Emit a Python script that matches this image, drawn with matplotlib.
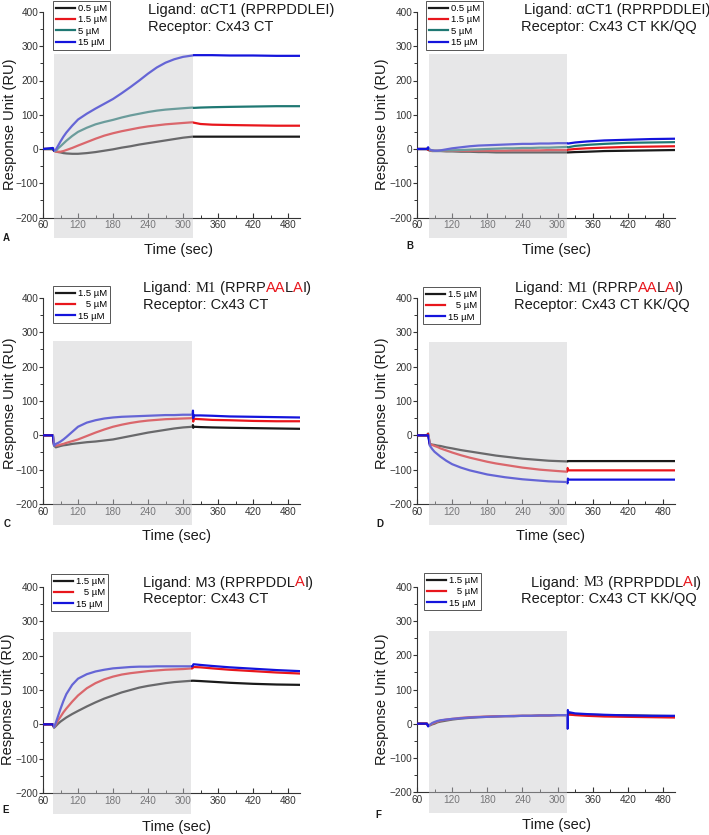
import matplotlib
matplotlib.use("Agg")
import matplotlib.pyplot as plt
from matplotlib.patches import Rectangle
from matplotlib.ticker import MultipleLocator
from matplotlib.transforms import IdentityTransform
from matplotlib.lines import Line2D

plt.rcParams['font.family'] = ['Liberation Sans', 'DejaVu Sans']

# ---------------- data ----------------
TIME_A = [60, 77, 79, 82, 86, 90, 95, 100, 110, 120, 135, 150, 165, 180, 195, 210, 225, 240,
          255, 270, 285, 300, 316, 318, 330, 350, 380, 420, 460, 500]
A_05 = [0, 0, -5, -7, -9, -10, -12, -13, -14, -14, -12, -9, -5, -1, 4, 8, 13, 17,
        21, 25, 29, 33, 36, 36, 36, 36, 36, 36, 36, 36]
A_15 = [0, 0, -6, -8, -8, -8, -6, -3, 3, 10, 20, 30, 39, 46, 52, 57, 62, 66,
        69, 72, 74, 76, 78, 77, 73, 71, 70, 69, 68, 68]
A_5 = [0, 0, -5, -5, 2, 8, 16, 24, 38, 50, 62, 72, 79, 85, 92, 98, 103, 108,
       112, 115, 117, 119, 121, 120, 121, 122, 123, 124, 125, 125]
A_15u = [0, 3, -5, -2, 10, 22, 36, 48, 68, 86, 103, 118, 132, 146, 163, 181, 200, 220,
         238, 252, 262, 269, 273, 274, 274, 274, 273, 273, 272, 272]

TIME_B = TIME_A
B_05 = [0, 0, -2, -5, -6, -6, -6, -6, -7, -7, -8, -8, -9, -9, -10, -10, -10, -10,
        -10, -10, -10, -10, -10, -10, -9, -8, -6, -5, -4, -3]
B_15 = [0, 0, -2, -4, -5, -5, -5, -5, -5, -5, -5, -5, -5, -5, -5, -5, -4, -4,
        -4, -4, -3, -3, -3, -2, 0, 2, 4, 6, 7, 8]
B_5 = [0, 0, 3, -3, -4, -5, -5, -5, -4, -4, -3, -2, -1, 0, 1, 2, 2, 3,
       3, 4, 4, 5, 6, 5, 9, 12, 15, 18, 19, 20]
B_15u = [0, 0, 5, -2, -4, -5, -5, -4, -1, 2, 5, 8, 10, 11, 12, 13, 14, 15,
         15, 16, 16, 17, 17, 16, 19, 22, 25, 27, 29, 30]

TIME_C = [60, 77, 79, 82, 86, 90, 95, 100, 110, 120, 135, 150, 165, 180, 195, 210, 225, 240,
          255, 270, 285, 300, 316, 317, 317.5, 318, 330, 350, 380, 420, 460, 500]
C_15 = [0, 0, -30, -35, -33, -31, -29, -28, -25, -23, -20, -18, -15, -12, -7, -2, 3, 8,
        12, 16, 20, 23, 25, 30, 22, 25, 24, 23, 22, 21, 20, 19]
C_5 = [0, 0, -28, -30, -29, -27, -25, -22, -17, -12, -2, 8, 17, 25, 31, 36, 40, 43,
       45, 47, 48, 49, 50, 56, 40, 48, 47, 45, 44, 42, 41, 41]
C_15u = [0, 0, -30, -25, -22, -18, -12, -5, 10, 25, 37, 44, 49, 52, 54, 55, 56, 57,
         58, 59, 59, 60, 60, 72, 50, 58, 58, 57, 55, 54, 53, 52]

TIME_D = TIME_C
D_15 = [0, 0, 5, -25, -27, -28, -30, -31, -35, -38, -43, -47, -51, -55, -59, -62, -65, -68,
        -70, -72, -74, -75, -76, -76, -75, -75, -75, -75, -75, -75, -75, -75]
D_5 = [0, 0, 4, -26, -28, -31, -34, -38, -44, -50, -58, -65, -71, -77, -82, -86, -90, -94,
       -97, -100, -102, -104, -106, -95, -100, -102, -102, -102, -102, -102, -102, -102]
D_15u = [0, 0, 0, -30, -40, -48, -55, -62, -74, -84, -94, -102, -108, -114, -118, -122, -125, -128,
         -130, -132, -134, -135, -136, -140, -126, -129, -129, -129, -129, -129, -129, -129]

TIME_E = TIME_A
E_15 = [0, 0, -10, -5, 2, 8, 14, 20, 30, 39, 52, 64, 75, 84, 93, 100, 107, 112,
        116, 120, 123, 125, 127, 127, 126, 124, 121, 118, 116, 115]
E_5 = [0, 0, -8, 0, 12, 22, 35, 46, 66, 84, 105, 120, 131, 139, 145, 149, 152, 155,
       157, 159, 160, 161, 163, 167, 166, 163, 159, 155, 151, 148]
E_15u = [0, 0, -8, 5, 25, 45, 68, 88, 115, 133, 146, 154, 159, 163, 165, 167, 168, 168,
         169, 169, 169, 169, 169, 175, 173, 170, 166, 162, 158, 155]

TIME_F = TIME_C
F_15 = [0, 0, -6, -5, -2, 0, 4, 6, 9, 12, 15, 17, 19, 20, 21, 22, 22, 23,
        23, 24, 24, 25, 25, 25, 25, 28, 27, 26, 25, 24, 23, 22]
F_5 = [0, 0, -6, -4, 0, 3, 6, 9, 12, 14, 17, 19, 20, 21, 22, 22, 23, 23,
       23, 24, 24, 25, 25, 25, 25, 27, 25, 23, 21, 20, 19, 18]
F_15u = [0, 0, -8, -3, 2, 5, 8, 10, 12, 14, 16, 18, 19, 20, 21, 22, 22, 23,
         23, 24, 24, 25, 25, -15, 40, 34, 30, 28, 26, 24, 23, 23]

LABELS_4 = ["0.5 \u00b5M", "1.5 \u00b5M", "5 \u00b5M", "15 \u00b5M"]
LABELS_3 = ["1.5 \u00b5M", "   5 \u00b5M", "15 \u00b5M"]
COLORS_4 = ["#1a1a1a", "#e8161c", "#1f7873", "#1414dc"]
COLORS_3 = ["#1a1a1a", "#e8161c", "#1414dc"]

X_TICKS = [60, 120, 180, 240, 300, 360, 420, 480]
Y_TICKS = [-200, -100, 0, 100, 200, 300, 400]

# ---------------- figure ----------------
W, H = 709, 835
fig = plt.figure(figsize=(W / 100, H / 100), dpi=100)
renderer = fig.canvas.get_renderer()
ID = IdentityTransform()

RED = "#e8161c"
SANS = "Liberation Sans"
SERIF = "Liberation Serif"
INK = "#1a1a1a"

def add_px_axes(x0, ytop, x1, ybot):
    return fig.add_axes([x0 / W, 1 - ybot / H, (x1 - x0) / W, (ybot - ytop) / H])

def text_adv(s, fam, size):
    t1 = fig.text(0, 0, s + "x", family=fam, size=size, transform=ID)
    w1 = t1.get_window_extent(renderer).width
    t1.remove()
    t2 = fig.text(0, 0, "x", family=fam, size=size, transform=ID)
    w2 = t2.get_window_extent(renderer).width
    t2.remove()
    return w1 - w2

def rich(x, ybase, pieces, size=10.5):
    for s, fam, col in pieces:
        fig.text(x, H - ybase, s, family=fam, color=col, size=size,
                 ha="left", va="baseline", transform=ID)
        x += text_adv(s, fam, size)

panels = [
    dict(box=(43, 12, 299.7, 217.5), t=TIME_A, ys=[A_05, A_15, A_5, A_15u], labels=LABELS_4,
         colors=COLORS_4, shade=(78.5, 317, 277), leg=(53, 1),
         title=[("Ligand: \u03b1CT1 (RPRPDDLEI)", SANS, INK)],
         rec="Receptor: Cx43 CT", l1=(148, 14), l2=(148, 30.5),
         ylab=(10, 124), xlab=(178, 250), letter=("A", 6, 238)),
    dict(box=(417, 12, 674.7, 217.5), t=TIME_B, ys=[B_05, B_15, B_5, B_15u], labels=LABELS_4,
         colors=COLORS_4, shade=(80, 316, 277), leg=(426, 1),
         title=[("Ligand: \u03b1CT1 (RPRPDDLEI)", SANS, INK)],
         rec="Receptor: Cx43 CT KK/QQ", l1=(524, 14), l2=(521, 30.5),
         ylab=(382, 124), xlab=(557, 250), letter=("B", 410, 246)),
    dict(box=(43, 298, 299.7, 504), t=TIME_C, ys=[C_15, C_5, C_15u], labels=LABELS_3,
         colors=COLORS_3, shade=(77, 315, 275), leg=(53, 286),
         title=[("Ligand: ", SANS, INK), ("M1", SERIF, INK), (" (RPRP", SANS, INK),
                ("AA", SANS, RED), ("L", SANS, INK), ("A", SANS, RED), ("I)", SANS, INK)],
         rec="Receptor: Cx43 CT", l1=(143, 292), l2=(143, 308.5),
         ylab=(10, 403), xlab=(177, 536), letter=("C", 7, 524)),
    dict(box=(417, 298, 674.7, 504), t=TIME_D, ys=[D_15, D_5, D_15u], labels=LABELS_3,
         colors=COLORS_3, shade=(80, 316, 273), leg=(423, 287),
         title=[("Ligand: ", SANS, INK), ("M1", SERIF, INK), (" (RPRP", SANS, INK),
                ("AA", SANS, RED), ("L", SANS, INK), ("A", SANS, RED), ("I)", SANS, INK)],
         rec="Receptor: Cx43 CT KK/QQ", l1=(515, 292), l2=(514, 308.5),
         ylab=(382, 403), xlab=(551, 536), letter=("D", 380, 524)),
    dict(box=(43, 587, 299.7, 793), t=TIME_E, ys=[E_15, E_5, E_15u], labels=LABELS_3,
         colors=COLORS_3, shade=(76.5, 314, 270), leg=(51, 574),
         title=[("Ligand: M3 (RPRPDDL", SANS, INK), ("A", SANS, RED), ("I)", SANS, INK)],
         rec="Receptor: Cx43 CT", l1=(143, 586.5), l2=(143, 603),
         ylab=(8, 699), xlab=(177, 827), letter=("E", 5.5, 810)),
    dict(box=(417, 587, 674.7, 792), t=TIME_F, ys=[F_15, F_5, F_15u], labels=LABELS_3,
         colors=COLORS_3, shade=(80, 316, 272), leg=(424, 573),
         title=[("Ligand: ", SANS, INK), ("M3", SERIF, INK), (" (RPRPDDL", SANS, INK),
                ("A", SANS, RED), ("I)", SANS, INK)],
         rec="Receptor: Cx43 CT KK/QQ", l1=(531, 586.5), l2=(521, 603),
         ylab=(382, 699), xlab=(557, 825), letter=("F", 378, 815)),
]

AXC = "#333333"
for p in panels:
    ax = add_px_axes(*p["box"])
    ax.set_xlim(60, 500)
    ax.set_ylim(-200, 400)
    ax.patch.set_alpha(0)
    for s in ["top", "right"]:
        ax.spines[s].set_visible(False)
    for s in ["left", "bottom"]:
        ax.spines[s].set_color(AXC)
        ax.spines[s].set_linewidth(0.8)
    ax.set_xticks(X_TICKS)
    ax.set_yticks(Y_TICKS)
    ax.xaxis.set_minor_locator(MultipleLocator(30))
    ax.yaxis.set_minor_locator(MultipleLocator(50))
    ax.tick_params(axis="both", which="major", labelsize=7.2, colors=AXC, width=0.8)
    ax.tick_params(axis="y", which="major", direction="out", length=3, pad=0.4)
    ax.tick_params(axis="y", which="minor", direction="out", length=2, width=0.7, colors=AXC)
    ax.tick_params(axis="x", which="major", direction="in", length=3.5, pad=2.0)
    ax.tick_params(axis="x", which="minor", direction="in", length=2, width=0.7, colors=AXC)

    handles = []
    for y, c in zip(p["ys"], p["colors"]):
        ax.plot(p["t"], y, color=c, lw=1.6, zorder=3, solid_joinstyle="round")
        handles.append(Line2D([], [], color=c, lw=1.6))

    x0, x1, top = p["shade"]
    ax.add_patch(Rectangle((x0, -260), x1 - x0, top + 260, facecolor=(202 / 255, 202 / 255, 206 / 255),
                           edgecolor="none", alpha=0.45, zorder=5, clip_on=False))

    lx, ly = p["leg"]
    leg = ax.legend(handles, p["labels"], loc="upper left",
                    bbox_to_anchor=(lx / W, 1 - ly / H), bbox_transform=fig.transFigure,
                    borderaxespad=0, frameon=True, fancybox=False, framealpha=1,
                    edgecolor="#555555", prop=dict(family=SANS, size=6.8),
                    handlelength=2.0, handletextpad=0.35, labelspacing=0.25, borderpad=0.3)
    leg.get_frame().set_linewidth(0.7)
    leg.set_zorder(6)

    rich(p["l1"][0], p["l1"][1], p["title"])
    rich(p["l2"][0], p["l2"][1], [(p["rec"], SANS, INK)])

    fig.text(p["ylab"][0], H - p["ylab"][1], "Response Unit (RU)", rotation=90, size=10.5,
             ha="center", va="center", color=INK, transform=ID)
    fig.text(p["xlab"][0], H - p["xlab"][1], "Time (sec)", size=10.5,
             ha="center", va="center", color=INK, transform=ID)
    L, lx_, ly_ = p["letter"]
    fig.text(lx_, H - ly_, L, size=7, weight="bold", ha="center", va="center",
             color=INK, transform=ID)

fig.savefig("out.png", dpi=100)
